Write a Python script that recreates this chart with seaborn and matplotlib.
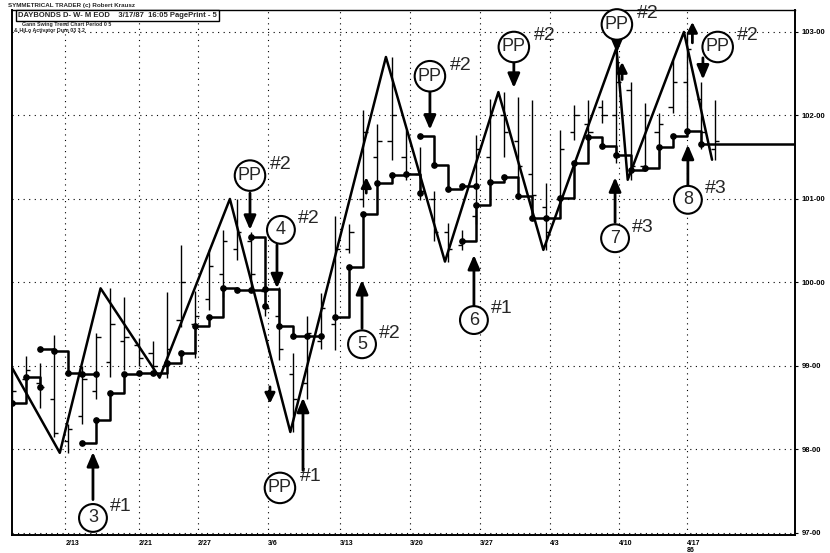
import numpy as np
import pandas as pd
import matplotlib
matplotlib.use("Agg")
import matplotlib.pyplot as plt
import seaborn as sns

# ------------------------------
# data (T-bond daily bars Feb-Apr 1986)
# ------------------------------
bar_high = [98.98, 99.12, 99.04, 99.37, 98.30, 99.00, 99.40, 99.93, 99.83, 99.33,
            99.30, 99.88, 100.45, 99.90, 100.40, 100.63, 101.00, 100.60, 100.00, 99.95,
            99.15, 99.60, 99.87, 100.80, 100.70, 102.07, 101.90, 102.70, 101.83, 101.62,
            101.10, 100.71, 100.63, 101.77, 102.20, 102.28, 102.22, 102.19, 101.19, 101.83,
            102.13, 102.19, 102.19, 102.81, 102.40, 102.15, 102.03, 102.66, 103.00, 102.40,
            102.19]
bar_low = [98.55, 98.75, 98.50, 98.15, 97.96, 98.30, 98.60, 98.87, 98.95, 99.00,
           98.95, 98.86, 99.47, 99.10, 99.67, 99.83, 100.27, 99.88, 99.60, 99.07,
           98.21, 98.60, 99.20, 99.19, 100.35, 100.90, 101.19, 101.47, 101.23, 100.99,
           100.50, 100.25, 100.39, 100.70, 101.19, 101.50, 101.26, 101.00, 100.39, 100.99,
           101.71, 101.67, 101.91, 101.43, 101.23, 101.35, 101.47, 102.03, 101.80, 101.60,
           101.47]
bar_open = [98.90, 98.85, 98.80, 98.60, 98.10, 98.40, 98.70, 99.05, 99.30, 99.25,
            99.15, 99.00, 99.55, 99.50, 99.80, 100.10, 100.40, 100.50, 99.90, 99.60,
            98.90, 98.80, 99.30, 99.50, 100.40, 101.00, 101.50, 101.70, 101.50, 101.30,
            101.00, 100.60, 100.45, 100.80, 101.50, 102.00, 101.70, 101.30, 100.90, 101.00,
            101.80, 101.90, 102.10, 102.00, 102.30, 101.40, 101.80, 102.10, 102.40, 102.20,
            101.60]
bar_close = [98.70, 98.95, 98.75, 98.20, 98.25, 98.85, 99.35, 99.50, 99.35, 99.10,
             99.00, 99.20, 100.00, 99.60, 100.20, 100.50, 100.60, 100.10, 99.70, 99.20,
             98.60, 99.40, 99.70, 100.40, 100.60, 101.80, 101.70, 102.00, 101.30, 101.10,
             100.60, 100.40, 100.50, 101.60, 102.00, 101.80, 101.40, 101.05, 100.60, 101.60,
             102.00, 101.80, 102.00, 102.40, 101.40, 102.00, 101.90, 102.40, 102.80, 101.80,
             101.70]

# swing (zigzag) line: bar position, price
swing_bar = [0, 3.4, 6.3, 10.5, 15.5, 19.8, 26.6, 30.8, 34.6, 37.8, 43.0, 43.8, 47.8, 49.8]
swing_price = [98.98, 97.96, 99.93, 98.86, 101.00, 98.21, 102.70, 100.25,
               102.28, 100.39, 102.81, 101.23, 103.00, 101.47]

# HiLo activator steps: (first bar, values)
stop_long = [
    (0, [98.56, 98.87, 98.75]),
    (5, [98.08, 98.35, 98.68, 98.90, 98.92, 98.92, 99.04, 99.16, 99.48,
         99.59, 99.93, 99.91, 99.91, 99.72]),
    (23, [99.59, 100.19, 100.82, 101.19, 101.29, 101.30, 101.07]),
    (32, [100.50, 100.93, 101.20, 101.26, 101.03, 100.77, 100.77, 101.01,
          101.43, 101.74, 101.63, 101.53, 101.35, 101.37, 101.62, 101.75,
          101.81, 101.66]),
]
stop_short = [
    (2, [99.20, 99.18, 98.92, 98.90, 98.90]),
    (17, [100.54, 99.92, 99.48, 99.36, 99.36, 99.36]),
    (29, [101.75, 101.41, 101.12, 101.16, 101.16]),
]

date_pos = [3.8, 9.0, 13.2, 18.2, 23.3, 28.3, 33.3, 38.3, 43.2, 48.0]
date_labels = ["2/13", "2/21", "2/27", "3/6", "3/13", "3/20", "3/27", "4/3", "4/10", "4/17\n86"]
price_ticks = [97, 98, 99, 100, 101, 102, 103]

# annotations: label, hash, circle (bar, price), arrow tail, arrow head
notes = [
    ("3", "#1", (5.76, 97.18), (5.76, 97.40), (5.76, 97.97)),
    ("PP", "#2", (16.93, 101.28), (16.93, 101.07), (16.93, 100.63)),
    ("4", "#2", (19.13, 100.63), (18.85, 100.45), (18.85, 99.93)),
    ("PP", "#1", (19.06, 97.54), (20.70, 97.75), (20.70, 98.62)),
    ("5", "#2", (24.90, 99.26), (24.90, 99.45), (24.90, 100.03)),
    ("PP", "#2", (29.73, 102.47), (29.73, 102.28), (29.73, 101.83)),
    ("6", "#1", (32.86, 99.55), (32.86, 99.73), (32.86, 100.33)),
    ("PP", "#2", (35.70, 102.82), (35.70, 102.64), (35.70, 102.33)),
    ("PP", "#2", (43.03, 103.09), (43.03, 102.90), (43.03, 102.75)),
    ("7", "#3", (42.90, 100.53), (42.90, 100.72), (42.90, 101.26)),
    ("8", "#3", (48.08, 100.99), (48.08, 101.17), (48.08, 101.65)),
    ("PP", "#2", (50.20, 102.82), (49.15, 102.69), (49.15, 102.43)),
]
small_arrows = [
    ((25.2, 101.07), (25.2, 101.26)),
    ((43.4, 102.43), (43.4, 102.64)),
    ((48.4, 102.87), (48.4, 103.12)),
    ((18.35, 98.75), (18.35, 98.55)),
]

# ------------------------------
# figure
# ------------------------------
sns.set_theme(style="white")
plt.rcParams["font.family"] = ["Liberation Sans", "DejaVu Sans"]

fig = plt.figure(figsize=(8.3, 5.53), dpi=100)
ax = fig.add_axes([12 / 830, 18 / 553, 783 / 830, 525 / 553])

idx = np.arange(len(bar_high))

# dotted grid
for p in price_ticks:
    ax.axhline(p, color="black", lw=0.8, linestyle=(0, (1, 4)), zorder=0)
for d in date_pos:
    ax.axvline(d, color="black", lw=0.8, linestyle=(0, (1, 4)), zorder=0)

# price bars
ax.vlines(idx, bar_low, bar_high, color="black", lw=1.0, zorder=2)
ax.hlines(bar_open, idx - 0.3, idx, color="black", lw=1.0, zorder=2)
ax.hlines(bar_close, idx, idx + 0.3, color="black", lw=1.0, zorder=2)

# swing line
swings = pd.DataFrame({"bar": swing_bar, "price": swing_price})
sns.lineplot(data=swings, x="bar", y="price", sort=False, color="black",
             lw=1.8, ax=ax, zorder=3)

# activator steps
for segs in (stop_long, stop_short):
    for start, vals in segs:
        xs = np.arange(start, start + len(vals))
        ax.plot(xs, vals, drawstyle="steps-post", color="black", lw=1.8,
                marker="o", ms=3.8, zorder=4)
last_start, last_vals = stop_long[-1]
ax.plot([last_start + len(last_vals) - 1, 60], [last_vals[-1]] * 2,
        color="black", lw=1.8, zorder=4)

# arrows + circled labels
for label, hashtag, circ, tail, head in notes:
    ax.annotate("", xy=head, xytext=tail,
                arrowprops=dict(arrowstyle="-|>,head_width=0.3,head_length=0.7",
                                color="black", lw=2.0, shrinkA=0, shrinkB=0),
                zorder=6)
    is_pp = label == "PP"
    ax.text(circ[0], circ[1], label, ha="center", va="center", fontsize=13,
            bbox=dict(boxstyle=f"circle,pad={0.18 if is_pp else 0.3}",
                      fc="white", ec="black", lw=1.5),
            zorder=7)
    ax.annotate(hashtag, xy=circ, xytext=(22 if is_pp else 20, 8),
                textcoords="offset points", fontsize=14, ha="center", va="center",
                zorder=7)

for tail, head in small_arrows:
    ax.annotate("", xy=head, xytext=tail,
                arrowprops=dict(arrowstyle="-|>,head_width=0.25,head_length=0.5",
                                color="black", lw=2.0, shrinkA=0, shrinkB=0),
                zorder=6)

# axes
ax.set_xlim(0, 55.7)
ax.set_ylim(96.976, 103.263)
ax.set_xlabel("")
ax.set_ylabel("")
ax.set_xticks(date_pos)
ax.set_xticklabels(date_labels, fontsize=5, fontweight="bold", ha="left",
                   linespacing=1.0)
ax.yaxis.tick_right()
ax.set_yticks(price_ticks)
ax.set_yticklabels([f"{p}-00" for p in price_ticks], fontsize=5.5, fontweight="bold")
ax.tick_params(axis="both", length=2, width=0.8, pad=3, colors="black")
ax.tick_params(axis="x", pad=1.5)
for side, lw in (("left", 1.4), ("bottom", 1.4), ("right", 1.4), ("top", 1.0)):
    ax.spines[side].set_color("black")
    ax.spines[side].set_linewidth(lw)

# header
fig.text(8 / 830, 1 - 5 / 553, "SYMMETRICAL TRADER (c) Robert Krausz",
         fontsize=4.5, fontweight="bold", va="center")
fig.text(18 / 830, 1 - 15.5 / 553,
         "DAYBONDS D- W- M EOD    3/17/87  16:05 PagePrint - 5",
         fontsize=5.5, fontweight="bold", va="center",
         bbox=dict(boxstyle="square,pad=0.25", fc="white", ec="black", lw=1.0))
fig.text(22 / 830, 1 - 24.5 / 553, "Gann Swing Trend Chart Period 0 5",
         fontsize=3.8, fontweight="bold", va="center")
fig.text(14 / 830, 1 - 30.5 / 553, "& HiLo Activator Dum 03 3.2",
         fontsize=3.8, fontweight="bold", va="center")

fig.savefig("out.png", dpi=100)
plt.close(fig)
